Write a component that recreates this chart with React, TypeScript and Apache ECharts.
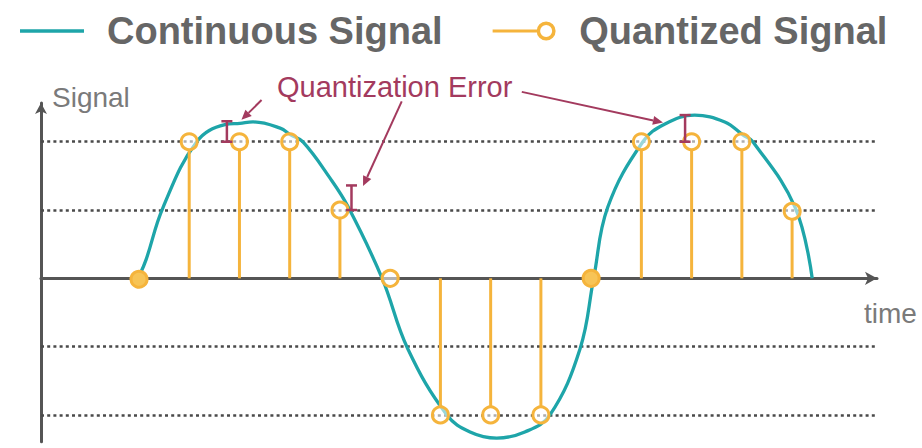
import React, { useEffect, useRef } from "react";
import * as echarts from "echarts";

// Sampling instants (in sample periods) and the quantized level held at each
const sampleTimes = [0, 1, 2, 3, 4, 5, 6, 7, 8, 9, 10, 11, 12, 13];
const quantizedLevels = [0, 2, 2, 2, 1, 0, -2, -2, -2, 0, 2, 2, 2, 1];

// Continuous signal traced as (time, amplitude) points
const curveTimes = [
  0.02, 0.14, 0.48, 1.15, 1.71, 2.01, 2.27, 2.81, 3.02, 3.26, 3.8, 4.16, 4.84,
  5.35, 6.13, 6.59, 7.12, 7.68, 8.18, 8.78, 9.05, 9.33, 10.03, 10.47, 11.06,
  11.66, 12.02, 12.22, 13.06, 13.4,
];
const curveValues = [
  0.06, 0.27, 1.04, 2.0, 2.25, 2.27, 2.29, 2.2, 2.1, 2.0, 1.47, 1.05, 0.0,
  -1.03, -2.0, -2.25, -2.34, -2.25, -2.0, -1.03, 0.0, 1.04, 2.0, 2.26, 2.39,
  2.29, 2.1, 2.0, 1.04, 0.0,
];

// Quantization levels shown as dotted reference lines
const levelLines = [2, 1, -1, -2];

// Error brackets: time, quantized level, true amplitude
const errorTimes = [1.75, 4.23, 10.87];
const errorLevels = [2, 1, 2];
const errorAmplitudes = [2.3, 1.36, 2.39];

// Callout arrows from the label towards the brackets (time, amplitude)
const calloutFrom = [
  [2.44, 2.61],
  [5.23, 2.59],
  [7.62, 2.73],
];
const calloutTo = [
  [2.04, 2.32],
  [4.46, 1.35],
  [10.43, 2.28],
];

const legendNames = ["Continuous Signal", "Quantized Signal"];
const calloutText = "Quantization Error";
const axisNames = { x: "time", y: "Signal" };

const TEAL = "#1ea5a9";
const ORANGE = "#f5b43c";
const MAROON = "#a33a5e";
const AXIS = "#555555";
const GRID = "#4a4a4a";
const FONT = "'Liberation Sans', Arial, Helvetica, sans-serif";

// Legend glyphs: a plain stroke for the curve, a stem ending in a ring for samples
const CURVE_ICON = "path://M0,0 L64,0 L64,3.4 L0,3.4 Z";
const QUANT_ICON =
  "path://M0,8.5 L45,8.5 L45,11.5 L0,11.5 Z " +
  "M63,10 A9.5,9.5 0 1,1 44,10 A9.5,9.5 0 1,1 63,10 Z " +
  "M59.5,10 A6,6 0 1,0 47.5,10 A6,6 0 1,0 59.5,10 Z";

export default function App() {
  const ref = useRef<HTMLDivElement>(null);

  useEffect(() => {
    if (!ref.current) return;
    const chart = echarts.init(ref.current, null, { renderer: "svg" });

    const curveData = curveTimes.map((t, i) => [t, curveValues[i]]);
    const sampleData = sampleTimes.map((t, i) => [t, quantizedLevels[i]]);
    const errorData = errorTimes.map((t, i) => [t, errorLevels[i], errorAmplitudes[i]]);
    const calloutData = calloutFrom.map((f, i) => [f[0], f[1], calloutTo[i][0], calloutTo[i][1]]);

    const option: any = {
      animation: false,
      textStyle: { fontFamily: FONT },
      grid: { left: 41, right: 45, top: 103, bottom: 6.3, containLabel: false },
      legend: {
        left: 15,
        top: 7,
        itemWidth: 64,
        itemHeight: 19,
        itemGap: 50,
        selectedMode: false,
        textStyle: {
          fontSize: 38,
          fontWeight: "bold",
          color: "#666666",
          fontFamily: FONT,
          padding: [0, 0, 0, 18],
        },
        data: [
          { name: legendNames[0], icon: CURVE_ICON },
          { name: legendNames[1], icon: QUANT_ICON },
        ],
      },
      xAxis: {
        type: "value",
        min: -1.95,
        max: 14.69,
        axisLine: {
          onZero: true,
          symbol: ["none", "arrow"],
          symbolSize: [10, 12],
          lineStyle: { color: AXIS, width: 3 },
        },
        axisTick: { show: false },
        axisLabel: { show: false },
        splitLine: { show: false },
      },
      yAxis: {
        type: "value",
        min: -2.392,
        max: 2.567,
        name: axisNames.y,
        nameLocation: "end",
        nameGap: 5.7,
        nameTextStyle: {
          fontSize: 28,
          color: "#7a7a7a",
          fontFamily: FONT,
          align: "left",
          verticalAlign: "middle",
          padding: [0, 0, 0, 11],
        },
        axisLine: {
          onZero: false,
          symbol: ["none", "arrow"],
          symbolSize: [9, 11],
          lineStyle: { color: AXIS, width: 3 },
        },
        axisTick: { show: false },
        axisLabel: { show: false },
        splitLine: { show: false },
      },
      graphic: [
        {
          type: "text",
          x: 277,
          y: 87,
          z: 10,
          style: {
            text: calloutText,
            fontSize: 29,
            fontFamily: FONT,
            fill: MAROON,
            align: "left",
            verticalAlign: "middle",
          },
        },
        {
          type: "text",
          x: 864,
          y: 313,
          z: 10,
          style: {
            text: axisNames.x,
            fontSize: 28,
            fontFamily: FONT,
            fill: "#7a7a7a",
            align: "left",
            verticalAlign: "middle",
          },
        },
      ],
      series: [
        {
          name: legendNames[0],
          type: "line",
          data: curveData,
          smooth: 0.4,
          symbol: "none",
          z: 3,
          lineStyle: { color: TEAL, width: 3.3 },
          itemStyle: { color: TEAL },
          markLine: {
            silent: true,
            z: 1,
            symbol: ["none", "none"],
            label: { show: false },
            lineStyle: { color: GRID, width: 2.6, type: [3, 3.2] },
            emphasis: { disabled: true },
            data: levelLines.map((v) => ({ yAxis: v })),
          },
        },
        {
          name: legendNames[1],
          type: "custom",
          coordinateSystem: "cartesian2d",
          z: 4,
          itemStyle: { color: ORANGE },
          encode: { x: 0, y: 1 },
          data: sampleData,
          renderItem: (params: any, api: any) => {
            const t = api.value(0);
            const v = api.value(1);
            const c = api.coord([t, v]);
            const base = api.coord([t, 0]);
            const r = 8;
            const children: any[] = [];
            if (v !== 0) {
              children.push({
                type: "line",
                shape: { x1: c[0], y1: base[1], x2: c[0], y2: c[1] + (v > 0 ? r : -r) },
                style: { stroke: ORANGE, lineWidth: 3 },
              });
            }
            // a zero sample that opens a rising half-cycle is drawn solid
            const next = quantizedLevels[params.dataIndex + 1];
            const solid = v === 0 && next !== undefined && next > 0;
            children.push({
              type: "circle",
              shape: { cx: c[0], cy: c[1], r },
              style: {
                fill: solid ? "#f7c456" : "rgba(255,255,255,0.55)",
                stroke: ORANGE,
                lineWidth: 3,
              },
            });
            return { type: "group", children };
          },
        },
        {
          name: "error",
          type: "custom",
          coordinateSystem: "cartesian2d",
          z: 5,
          encode: { x: 0, y: [1, 2] },
          data: errorData,
          renderItem: (_params: any, api: any) => {
            const t = api.value(0);
            const lo = api.coord([t, api.value(1)]);
            const hi = api.coord([t, api.value(2)]);
            const w = 5.5;
            const style = { stroke: MAROON, lineWidth: 2.5 };
            return {
              type: "group",
              children: [
                { type: "line", shape: { x1: lo[0], y1: lo[1], x2: hi[0], y2: hi[1] }, style },
                { type: "line", shape: { x1: hi[0] - w, y1: hi[1], x2: hi[0] + w, y2: hi[1] }, style },
                { type: "line", shape: { x1: lo[0] - w, y1: lo[1], x2: lo[0] + w, y2: lo[1] }, style },
              ],
            };
          },
        },
        {
          name: "callout",
          type: "custom",
          coordinateSystem: "cartesian2d",
          z: 6,
          encode: { x: [0, 2], y: [1, 3] },
          data: calloutData,
          renderItem: (_params: any, api: any) => {
            const p1 = api.coord([api.value(0), api.value(1)]);
            const p2 = api.coord([api.value(2), api.value(3)]);
            const dx = p2[0] - p1[0];
            const dy = p2[1] - p1[1];
            const len = Math.sqrt(dx * dx + dy * dy) || 1;
            const ux = dx / len;
            const uy = dy / len;
            const head = 10;
            const half = 4.5;
            const bx = p2[0] - ux * head;
            const by = p2[1] - uy * head;
            return {
              type: "group",
              children: [
                {
                  type: "line",
                  shape: { x1: p1[0], y1: p1[1], x2: bx, y2: by },
                  style: { stroke: MAROON, lineWidth: 2 },
                },
                {
                  type: "polygon",
                  shape: {
                    points: [
                      [p2[0], p2[1]],
                      [bx - uy * half, by + ux * half],
                      [bx + uy * half, by - ux * half],
                    ],
                  },
                  style: { fill: MAROON },
                },
              ],
            };
          },
        },
      ],
    };

    chart.setOption(option);
    return () => chart.dispose();
  }, []);

  return (
    <div
      ref={ref}
      style={{ position: "fixed", left: 0, top: 0, width: 922, height: 448, background: "#ffffff" }}
    />
  );
}
